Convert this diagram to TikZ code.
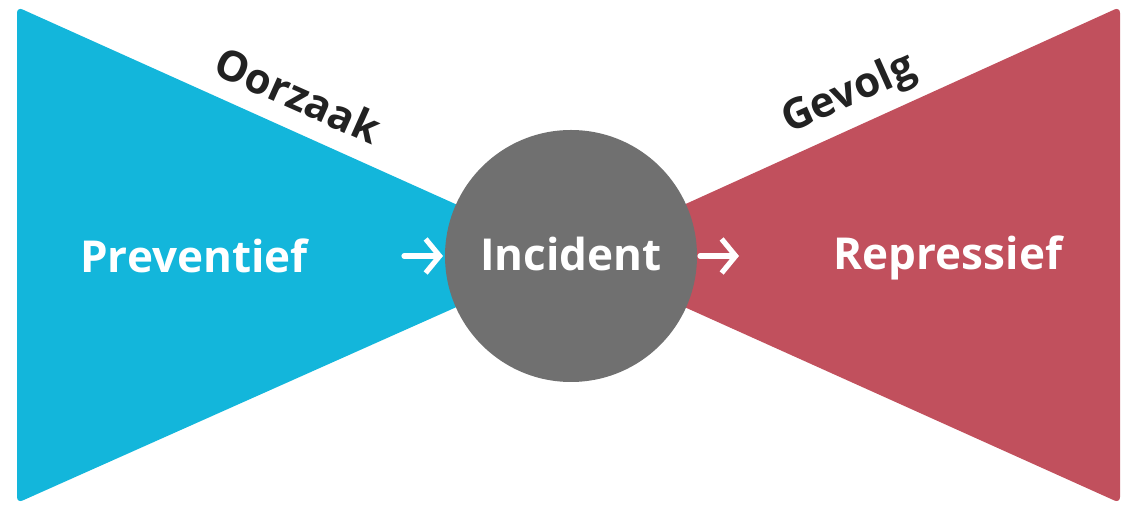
\documentclass[tikz,border=0pt]{standalone}
\usepackage{fontspec}
\setmainfont{Open Sans}
\usetikzlibrary{arrows.meta}
\definecolor{bowblue}{HTML}{13B6DB}
\definecolor{bowred}{HTML}{C1505D}
\definecolor{bowgrey}{HTML}{707070}
\definecolor{bowink}{HTML}{222222}
\begin{document}
\begin{tikzpicture}[
  x=0.5pt, y=-0.5pt,
  wing/.style={rounded corners=3pt},
  hub/.style={circle, fill=bowgrey, minimum size=126pt, inner sep=0pt},
  word/.style={font=\bfseries\fontsize{22}{26}\selectfont, text=white},
  sidelbl/.style={font=\bfseries\fontsize{21}{25}\selectfont, text=bowink},
  flow/.style={white, line width=2.6pt, line cap=round, -{Straight Barb[length=7pt, width=17pt, line width=2.6pt]}},
]
  \useasboundingbox (0,0) rectangle (1124,506);

  \fill[bowblue, wing] (17,7) -- (571,256) -- (17,503) -- cycle;
  \fill[bowred, wing]  (1120,7) -- (571,256) -- (1120,503) -- cycle;

  \node[hub] (incident) at (571,256) {};
  \node[word] at (571,254) {Incident};

  \node[word] (prev) at (194,256) {Preventief};
  \node[word] (repr) at (948,258) {Repressief};

  \node[sidelbl, rotate=-24] (oorzaak) at (298,95) {Oorzaak};
  \node[sidelbl, rotate=24]  (gevolg)  at (849,95) {Gevolg};

  \coordinate (in1) at (404,256);
  \coordinate (in2) at (443,256);
  \coordinate (out1) at (700,256);
  \coordinate (out2) at (739,256);
  \draw[flow] (in1) -- (in2);
  \draw[flow] (out1) -- (out2);
\end{tikzpicture}
\end{document}
